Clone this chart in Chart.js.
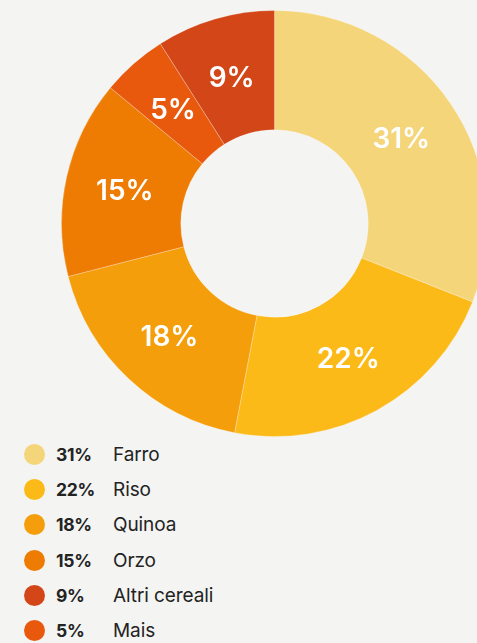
<!DOCTYPE html>
<html>
<head>
<meta charset="utf-8">
<script src="https://cdn.jsdelivr.net/npm/chart.js@4.4.1/dist/chart.umd.min.js"></script>
<style>
  html, body {
    margin: 0;
    padding: 0;
    width: 477px;
    height: 643px;
    overflow: hidden;
    background: #f4f4f2;
    font-family: Inter, 'Noto Sans', sans-serif;
  }
  #wrap {
    position: absolute;
    left: 61px;
    top: 10px;
    width: 427px;
    height: 427px;
  }
  #legend {
    position: absolute;
    left: 24px;
    top: 437px;
    margin: 0;
    padding: 0;
    list-style: none;
  }
  #legend li {
    height: 35.2px;
    display: flex;
    align-items: center;
    font-size: 19px;
    color: #232323;
    letter-spacing: -0.1px;
  }
  #legend .dot {
    width: 21px;
    height: 21px;
    border-radius: 50%;
    margin-right: 11px;
  }
  #legend .pct {
    font-weight: 700;
    font-size: 17.5px;
    letter-spacing: -0.3px;
    width: 57px;
  }
</style>
</head>
<body>
<div id="wrap"><canvas id="grainChart" width="427" height="427"></canvas></div>
<ul id="legend"></ul>
<script>
const categories = ['Farro', 'Riso', 'Quinoa', 'Orzo', 'Mais', 'Altri cereali'];
const shares = [31, 22, 18, 15, 5, 9];
const colors = ['#f5d57a', '#fbba18', '#f59e0b', '#ee7b02', '#e8590e', '#d34618'];

// white % labels in the middle of each slice
const sliceLabels = {
    id: 'sliceLabels',
    afterDatasetsDraw(chart) {
        const ctx = chart.ctx;
        const meta = chart.getDatasetMeta(0);
        ctx.save();
        ctx.fillStyle = '#ffffff';
        ctx.font = '600 28px Inter';
        ctx.textAlign = 'center';
        ctx.textBaseline = 'middle';
        meta.data.forEach((arc, i) => {
            const p = arc.tooltipPosition();
            ctx.fillText(shares[i] + '%', p.x, p.y + 2);
        });
        ctx.restore();
    }
};

new Chart(document.getElementById('grainChart').getContext('2d'), {
    type: 'doughnut',
    data: {
        labels: categories,
        datasets: [{
            data: shares,
            backgroundColor: colors,
            borderColor: 'rgba(255, 255, 255, 0.25)',
            borderWidth: 1
        }]
    },
    options: {
        responsive: false,
        animation: false,
        cutout: '44%',
        layout: { padding: 0 },
        plugins: {
            legend: { display: false },
            tooltip: { enabled: false }
        }
    },
    plugins: [sliceLabels]
});

// legend sorted by share, largest first
const legend = document.getElementById('legend');
categories
    .map((name, i) => ({ name, value: shares[i], color: colors[i] }))
    .sort((a, b) => b.value - a.value)
    .forEach(item => {
        const li = document.createElement('li');
        li.innerHTML = '<span class="dot" style="background:' + item.color + '"></span>' +
            '<span class="pct">' + item.value + '%</span><span>' + item.name + '</span>';
        legend.appendChild(li);
    });
</script>
</body>
</html>
